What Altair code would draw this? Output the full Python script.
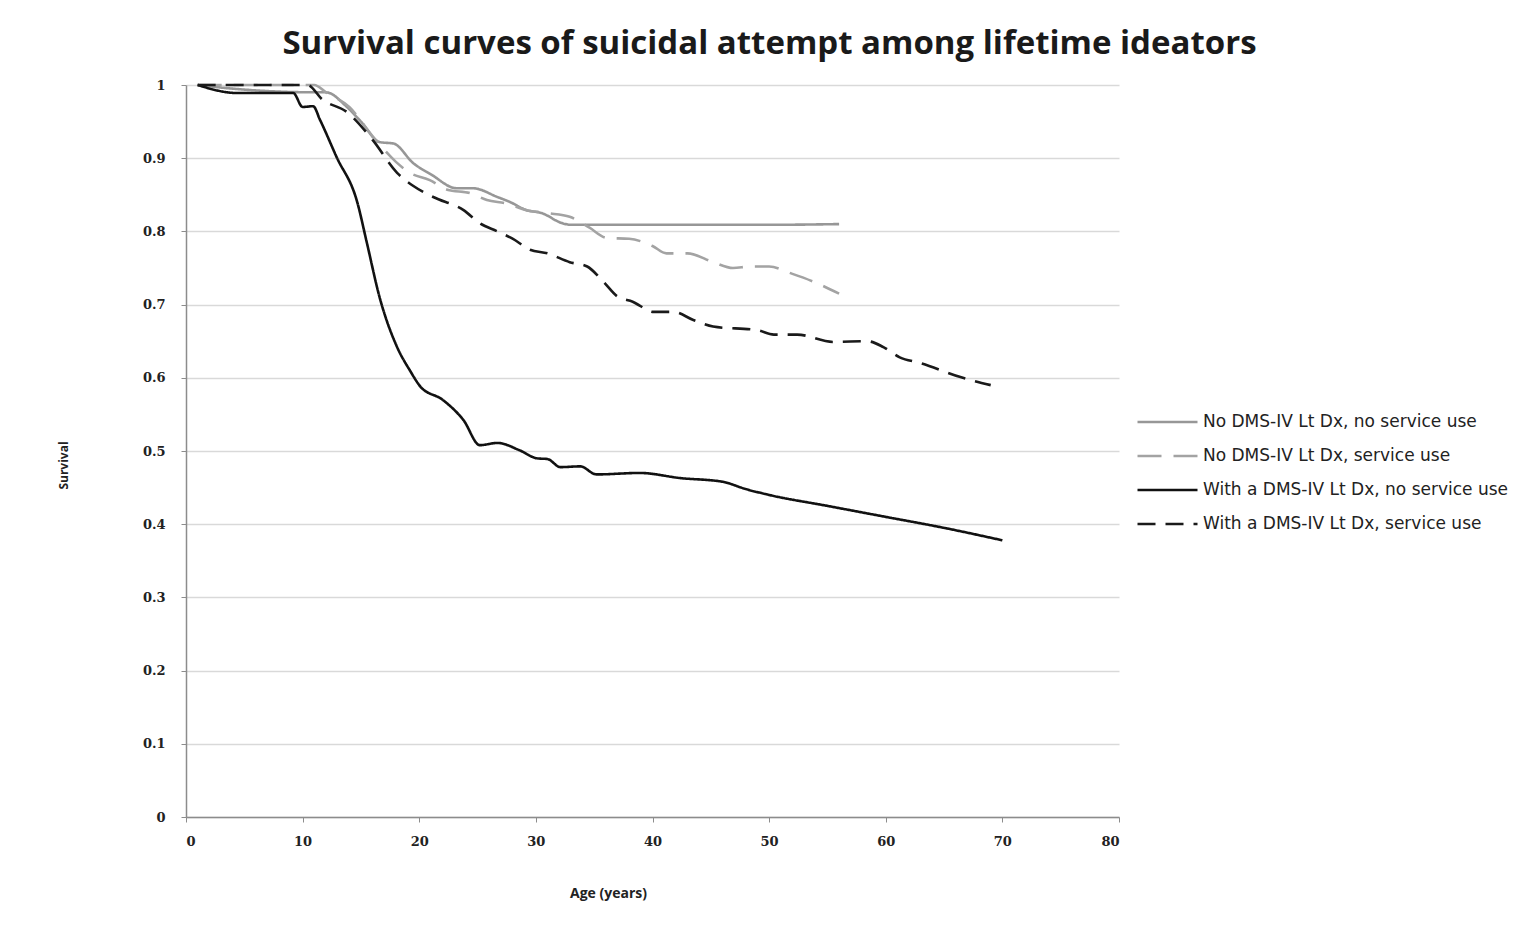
import altair as alt
import pandas as pd

SERIES = [
    "No DMS-IV Lt Dx, no service use",
    "No DMS-IV Lt Dx, service use",
    "With a DMS-IV Lt Dx, no service use",
    "With a DMS-IV Lt Dx, service use",
]

# Series 1: No Dx, no service use (gray solid)
age_a = [1, 4, 11, 12, 13.8, 15, 16.6, 17.8, 19.5, 21, 23.2, 24.6, 26.7, 27.8, 29.2, 30.5, 32.3, 33, 40, 50, 56]
surv_a = [1.0, 0.995, 0.99, 0.99, 0.97, 0.95, 0.922, 0.92, 0.893, 0.878, 0.859, 0.859, 0.847, 0.84, 0.829, 0.825, 0.811, 0.809, 0.809, 0.809, 0.81]

# Series 2: No Dx, service use (gray dashed)
age_b = [1, 11, 12, 14, 16, 18, 19.2, 20.9, 22.4, 24.4, 25.8, 27.5, 29.2, 31, 32.9, 34.6, 36.1, 38, 40, 41.2, 43, 45.2, 46.9, 48.4, 50, 52, 54, 56]
surv_b = [1.0, 1.0, 0.99, 0.97, 0.93, 0.895, 0.88, 0.87, 0.857, 0.852, 0.843, 0.838, 0.829, 0.825, 0.82, 0.805, 0.791, 0.79, 0.78, 0.77, 0.77, 0.758, 0.75, 0.752, 0.752, 0.742, 0.73, 0.715]

# Series 3: With Dx, no service use (black solid)
age_c = [1, 4.4, 9.2, 10, 10.9, 11.5, 12.9, 14.7, 15.5, 16.6, 18.1, 19.2, 20.1, 22.0, 23.8, 25.2, 26.7, 28.6, 30.1, 31.0, 32.1, 33.8, 35.2, 38.9, 42.4, 46, 48, 50, 55, 60, 65, 70]
surv_c = [1.0, 0.989, 0.989, 0.97, 0.971, 0.952, 0.902, 0.839, 0.785, 0.71, 0.642, 0.61, 0.588, 0.57, 0.542, 0.508, 0.511, 0.501, 0.49, 0.489, 0.478, 0.479, 0.468, 0.47, 0.463, 0.458, 0.448, 0.44, 0.425, 0.41, 0.395, 0.378]

# Series 4: With Dx, service use (black dashed)
age_d = [1, 10.4, 11.7, 13.8, 16.0, 18.1, 19.5, 21.2, 23.8, 25.2, 26.7, 28, 29.5, 31, 32.9, 34.4, 35.8, 37.0, 38.3, 40.1, 41.8, 43.5, 45.2, 49, 50.4, 52.4, 55.5, 58.4, 59.8, 61.2, 63, 66.4, 69]
surv_d = [1.0, 1.0, 0.98, 0.963, 0.925, 0.88, 0.862, 0.847, 0.829, 0.811, 0.80, 0.79, 0.775, 0.77, 0.758, 0.752, 0.731, 0.711, 0.704, 0.69, 0.69, 0.679, 0.67, 0.665, 0.659, 0.659, 0.649, 0.65, 0.642, 0.628, 0.62, 0.601, 0.59]

X_TICKS = [0, 10, 20, 30, 40, 50, 60, 70, 80]
Y_TICKS = [0, 0.1, 0.2, 0.3, 0.4, 0.5, 0.6, 0.7, 0.8, 0.9, 1]

COLORS = ["#979797", "#a3a3a3", "#111111", "#1a1a1a"]
DASHES = [[1, 0], [24, 12], [1, 0], [18, 10]]
WIDTHS = [2.6, 2.6, 3.0, 3.0]

rows = []
for name, ages, survs in zip(SERIES, [age_a, age_b, age_c, age_d], [surv_a, surv_b, surv_c, surv_d]):
    for a, s in zip(ages, survs):
        rows.append({"series": name, "age": a, "survival": s})
df = pd.DataFrame(rows)

PLOT_W, PLOT_H = 933, 732
PAD_L, PAD_T = 178, 77

chart = alt.Chart(df).mark_line(interpolate="monotone", strokeCap="butt").encode(
    x=alt.X("age:Q",
            scale=alt.Scale(domain=[0, 80], nice=False, zero=False),
            axis=alt.Axis(values=X_TICKS, title="Age (years)", grid=False,
                          domainColor="#8c8c8c", domainWidth=1.5,
                          tickColor="#8c8c8c", tickSize=5, labelPadding=13,
                          labelFont="DejaVu Serif", labelFontWeight="bold", labelFontSize=13,
                          labelColor="#222222",
                          titleFont="Open Sans", titleFontWeight="bold", titleFontSize=14,
                          titleColor="#222222",
                          titleX=422, titleY=76, titleAnchor="start", titleAlign="center",
                          titleBaseline="middle")),
    y=alt.Y("survival:Q",
            scale=alt.Scale(domain=[0, 1], nice=False),
            axis=alt.Axis(values=Y_TICKS, format="~g", title="Survival", grid=True,
                          gridColor="#d9d9d9", gridWidth=1.5,
                          domainColor="#8c8c8c", domainWidth=1.5,
                          tickColor="#8c8c8c", tickSize=5, labelPadding=16,
                          labelFont="DejaVu Serif", labelFontWeight="bold", labelFontSize=13,
                          labelColor="#222222",
                          titleFont="Open Sans", titleFontWeight="bold", titleFontSize=12,
                          titleColor="#222222", titleAngle=-90,
                          titleX=-123, titleY=380, titleAlign="center", titleBaseline="middle")),
    color=alt.Color("series:N", scale=alt.Scale(domain=SERIES, range=COLORS),
                    sort=SERIES,
                    legend=alt.Legend(title=None, orient="none", legendX=950, legendY=320,
                                      symbolType="stroke", symbolSize=3600, clipHeight=34,
                                      symbolStrokeWidth=3, labelFont="DejaVu Sans",
                                      labelFontSize=17, labelColor="#222222",
                                      labelOffset=4, rowPadding=0, labelLimit=400)),
    strokeDash=alt.StrokeDash("series:N", scale=alt.Scale(domain=SERIES, range=DASHES),
                              sort=SERIES, legend=None),
    strokeWidth=alt.StrokeWidth("series:N", scale=alt.Scale(domain=SERIES, range=WIDTHS),
                                sort=SERIES, legend=None),
    detail="series:N",
).properties(
    width=PLOT_W, height=PLOT_H,
    autosize=alt.AutoSizeParams(type="none"),
    padding={"left": PAD_L, "top": PAD_T, "right": 395, "bottom": 105},
    title=alt.TitleParams(
        "Survival curves of suicidal attempt among lifetime ideators",
        font="Open Sans", fontSize=33, fontWeight="bold", color="#1a1a1a",
        anchor="middle", frame="group", dx=117, offset=2, baseline="middle",
    ),
).configure_view(stroke=None).configure_axis(labelFontWeight="bold")

chart.save("out.html", embed_options={"renderer": "svg", "actions": False})
